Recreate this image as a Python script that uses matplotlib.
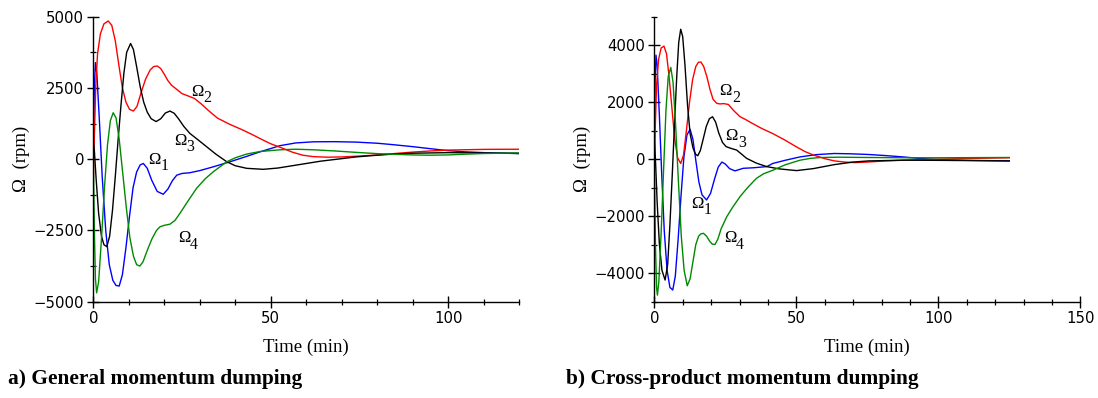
import matplotlib
matplotlib.use("Agg")
import matplotlib.pyplot as plt
from matplotlib.ticker import MultipleLocator, FixedLocator

# ---------------- data: (a) general momentum dumping ----------------
t_a1 = [0, 0.3, 0.6, 1, 1.7, 2.5, 3.5, 4.5, 5.5, 6.4, 7.3, 8.2, 9.2, 10.2, 11.2, 12.2, 13.2, 14.1,
        15.2, 16.5, 18, 19.7, 21, 22.3, 23.5, 25, 27.2, 30, 34, 38.5, 43, 47, 52.6, 57, 62, 68, 74,
        80, 84, 90, 94.5, 100, 104.5, 110, 120]
w_a1 = [300, 2600, 3390, 3000, 1400, -600, -2500, -3700, -4250, -4430, -4450, -4050, -3100, -2000,
        -1000, -450, -200, -150, -320, -750, -1130, -1230, -1050, -750, -560, -500, -475, -400, -260,
        -90, 90, 260, 475, 570, 610, 615, 600, 560, 515, 440, 375, 300, 260, 230, 200]

t_a2 = [0, 0.3, 0.7, 1.2, 2, 3, 4.2, 5.2, 6.2, 7.2, 8.2, 9.2, 10.2, 11.3, 12.3, 13.5, 14.7, 16, 17,
        18, 19, 20, 21, 22, 23.5, 25, 26.5, 28.5, 30.5, 32.5, 35, 38.5, 42, 45, 48, 50, 53, 56, 59,
        62, 66, 70, 75, 80, 85, 90, 95, 100, 110, 120]
w_a2 = [-850, 800, 2600, 3700, 4400, 4750, 4850, 4700, 4150, 3300, 2500, 2000, 1750, 1690, 1850,
        2350, 2800, 3130, 3250, 3270, 3180, 2980, 2760, 2600, 2450, 2300, 2230, 2130, 1930, 1700,
        1440, 1220, 1030, 850, 660, 540, 400, 250, 140, 90, 70, 80, 110, 150, 200, 250, 290, 320,
        345, 350]

t_a3 = [0, 0.3, 0.8, 1.5, 2.3, 3, 3.8, 4.6, 5.4, 6.2, 7, 7.8, 8.6, 9.4, 10.5, 11.3, 12.2, 13.2,
        14.2, 15.2, 16.3, 17.7, 19, 20.3, 21.6, 22.8, 24, 25.5, 27.2, 29.5, 31.9, 34.5, 37.6, 40,
        43.2, 47.9, 52, 56, 60, 64, 70, 74, 80, 84, 90, 100, 110, 120]
w_a3 = [600, 300, -700, -1900, -2700, -3000, -3070, -2700, -1800, -600, 700, 1900, 3000, 3750,
        4060, 3850, 3250, 2550, 2000, 1650, 1420, 1320, 1420, 1620, 1690, 1610, 1420, 1150, 905,
        680, 440, 180, -90, -230, -320, -355, -310, -230, -150, -70, 20, 80, 140, 175, 210, 230,
        220, 200]

t_a4 = [0, 0.3, 0.6, 0.94, 1.5, 2.3, 3.2, 4, 4.8, 5.6, 6.4, 7.3, 8.3, 9.3, 10.3, 11.3, 12.2, 13.1,
        14, 15.2, 16.5, 17.8, 18.8, 20, 21.6, 23, 24.4, 26.5, 29.1, 31.5, 33.8, 37.6, 40, 43.2, 47,
        52.6, 57, 62, 68, 74, 80, 84, 90, 94.5, 100, 104.5, 110, 120]
w_a4 = [0, -2500, -4200, -4690, -4300, -2800, -900, 500, 1350, 1630, 1450, 700, -500, -1700,
        -2750, -3400, -3700, -3750, -3600, -3200, -2800, -2500, -2370, -2320, -2280, -2150, -1900,
        -1500, -1020, -690, -440, -90, 50, 180, 270, 330, 350, 330, 290, 240, 195, 175, 150, 140,
        150, 175, 200, 220]

# ---------------- data: (b) cross-product momentum dumping ----------------
t_b1 = [0, 0.3, 0.6, 1, 1.8, 2.6, 3.5, 4.5, 5.5, 6.5, 7.4, 8.4, 9.4, 10.4, 11.5, 12.6, 13.6, 14.7,
        15.7, 16.8, 18.4, 19.8, 21.2, 22.5, 23.8, 25, 26.5, 28.4, 30, 31.3, 35, 39.6, 41.7, 46,
        51.3, 57, 63.4, 69, 75.5, 81, 87.6, 93, 99.6, 110, 125]
w_b1 = [0, 2800, 3650, 3300, 1500, -500, -2500, -3900, -4500, -4590, -4100, -2800, -1300, 50,
        850, 1050, 700, -100, -800, -1250, -1430, -1200, -700, -280, -100, -170, -330, -410, -360,
        -320, -300, -260, -150, -40, 80, 160, 200, 190, 165, 130, 80, 30, -10, -40, -60]

t_b2 = [0, 0.3, 0.8, 1.5, 2.4, 3.4, 4.3, 5.2, 6.2, 7.2, 8.2, 9.3, 10.3, 11.3, 12.4, 13.5, 14.6,
        15.5, 16.4, 17.4, 18.5, 19.6, 20.7, 22, 23.1, 24.5, 26.1, 28, 30.2, 32, 35, 38, 41.7, 46,
        50.1, 53, 56.2, 60, 63.4, 67, 70.7, 75, 81.5, 90, 99.6, 110, 125]
w_b2 = [-740, 1000, 2600, 3500, 3900, 3970, 3700, 2900, 1800, 700, 50, -150, 150, 1000, 2000,
        2800, 3250, 3400, 3410, 3250, 2900, 2450, 2100, 1960, 1940, 1950, 1920, 1700, 1490, 1400,
        1230, 1070, 900, 670, 430, 270, 140, 20, -60, -100, -120, -100, -60, -25, 0, 25, 50]

t_b3 = [0, 0.4, 1, 1.8, 2.7, 3.8, 4.7, 5.5, 6.3, 7.1, 7.9, 8.6, 9.3, 10, 10.8, 11.7, 12.6, 13.6,
        14.5, 15.3, 16.2, 17.2, 18.3, 19.4, 20.5, 21.6, 22.7, 24, 25.3, 27, 29, 30.7, 32.5, 36,
        39.6, 44, 50.1, 56, 63.4, 70, 75.5, 87.6, 100, 125]
w_b3 = [670, 0, -1500, -3000, -3900, -4240, -3700, -2300, -600, 1200, 2900, 4100, 4560, 4300,
        3300, 1900, 900, 400, 180, 120, 300, 700, 1150, 1420, 1490, 1300, 920, 590, 440, 380, 320,
        180, 30, -140, -260, -340, -400, -330, -190, -100, -60, -35, -40, -60]

t_b4 = [0, 0.4, 0.8, 1.1, 1.6, 2.4, 3.3, 4.1, 4.9, 5.8, 6.6, 7.5, 8.5, 9.5, 10.5, 11.6, 12.6, 13.6,
        14.6, 15.6, 16.4, 17.3, 18.4, 19.5, 20.4, 21.4, 22.4, 23.5, 25.5, 27.5, 30.2, 33, 36, 38.5,
        41.7, 46, 51.3, 55, 58.6, 65, 75.5, 90, 99.6, 125]
w_b4 = [0, -3000, -4500, -4770, -4300, -2600, -300, 1700, 2900, 3220, 2700, 1200, -800, -2700,
        -3900, -4440, -4200, -3600, -3000, -2700, -2620, -2600, -2700, -2880, -2980, -2990, -2800,
        -2450, -2020, -1700, -1310, -980, -670, -510, -390, -200, -35, 30, 60, 70, 60, 50, 50, 60]

series_subs = ["1", "2", "3", "4"]
series_colors = ["#0000ff", "#ff0000", "#000000", "#008a00"]

label_pos_a = [(15.4, -30), (27.5, 2360), (22.7, 640), (23.8, -2770)]
label_pos_b = [(13.1, -1570), (23.0, 2390), (25.1, 810), (24.5, -2770)]

captions = ["a) General momentum dumping", "b) Cross-product momentum dumping"]

plt.rcParams["axes.unicode_minus"] = True

W, H = 1098, 398
fig = plt.figure(figsize=(W / 100, H / 100), dpi=100)

def px_axes(x0, y0, x1, y1):
    return fig.add_axes([x0 / W, 1 - y1 / H, (x1 - x0) / W, (y1 - y0) / H])

ax_a = px_axes(93.3, 16.7, 519.3, 301.7)
ax_b = px_axes(654.3, 16.7, 1080.3, 301.7)

panels = [
    (ax_a, [(t_a1, w_a1), (t_a2, w_a2), (t_a3, w_a3), (t_a4, w_a4)], label_pos_a, 120),
    (ax_b, [(t_b1, w_b1), (t_b2, w_b2), (t_b3, w_b3), (t_b4, w_b4)], label_pos_b, 150),
]

serif = "Liberation Serif"
lab_fs = 12.0

for i, (ax, data, lpos, xmax) in enumerate(panels):
    for (t, w), c in zip(data, series_colors):
        ax.plot(t, w, color=c, lw=1.0)
    for (lx, ly), sub in zip(lpos, series_subs):
        ax.annotate("Ω", (lx, ly), xytext=(0, -3), textcoords="offset points",
                    family=serif, fontsize=lab_fs, ha="left", va="baseline")
        ax.annotate(sub, (lx, ly), xytext=(lab_fs * 0.74, -7.5), textcoords="offset points",
                    family=serif, fontsize=lab_fs * 0.95, ha="left", va="baseline")
    ax.set_xlim(0, xmax)
    ax.set_ylim(-5000, 5000)
    for s in ("top", "right"):
        ax.spines[s].set_visible(False)
    for s in ("left", "bottom"):
        ax.spines[s].set_linewidth(1.0)
    ax.xaxis.set_major_locator(MultipleLocator(50))
    ax.xaxis.set_minor_locator(MultipleLocator(10))
    if i == 0:
        ax.yaxis.set_major_locator(MultipleLocator(2500))
        ax.yaxis.set_minor_locator(MultipleLocator(1250))
    else:
        ax.yaxis.set_major_locator(FixedLocator([-4000, -2000, 0, 2000, 4000]))
        ax.yaxis.set_minor_locator(FixedLocator([-5000, -3000, -1000, 1000, 3000, 5000]))
    ax.tick_params(which="major", direction="inout", length=8, width=1.0,
                   labelsize=10.7, pad=2.5)
    ax.tick_params(which="minor", direction="inout", length=4.5, width=0.9)
    ax.set_xlabel("Time (min)", family=serif, fontsize=13.5, labelpad=9)
    ax.set_ylabel("Ω  (rpm)", family=serif, fontsize=13.5, labelpad=3)
    ax.patch.set_visible(False)

fig.text(8 / W, 1 - 384 / H, captions[0], family=serif, fontweight="bold",
         fontsize=15.4, ha="left", va="baseline")
fig.text(566 / W, 1 - 384 / H, captions[1], family=serif, fontweight="bold",
         fontsize=15.4, ha="left", va="baseline")

fig.savefig("out.png", dpi=100)
